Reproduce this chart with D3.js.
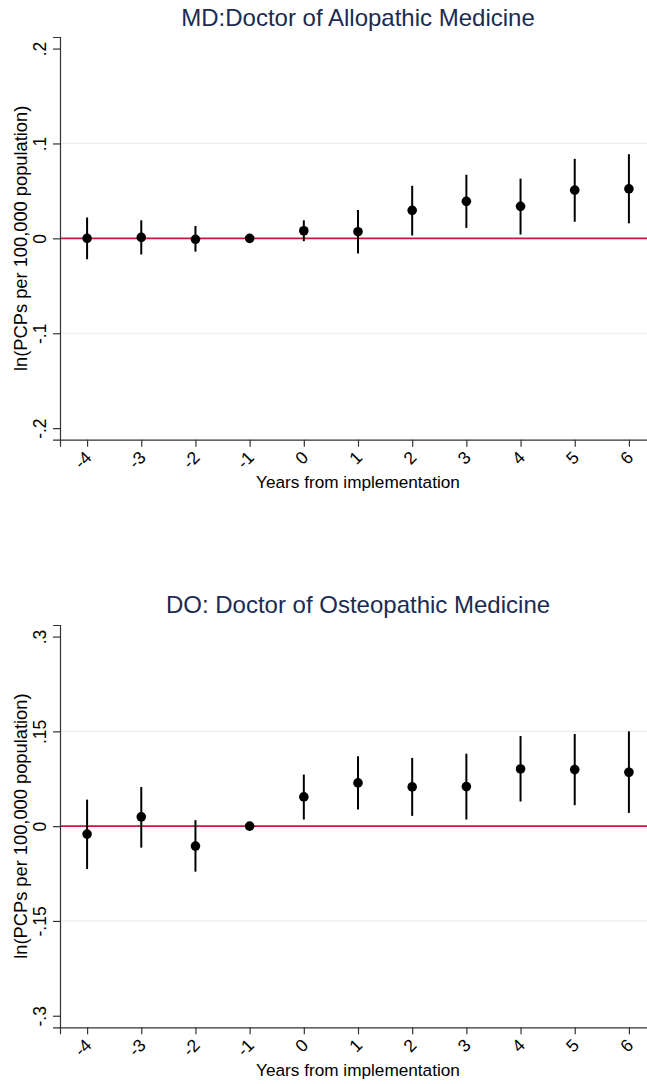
<!DOCTYPE html>
<html>
<head>
<meta charset="utf-8">
<script src="https://cdn.jsdelivr.net/npm/d3@7"></script>
<style>
  html, body { margin: 0; padding: 0; background: #fff; }
  svg { display: block; }
  text { font-family: "Liberation Sans", Arial, sans-serif; }
</style>
</head>
<body>
<script>
// ---- data ----
const years = [-4, -3, -2, -1, 0, 1, 2, 3, 4, 5, 6];
const xTickLabels = ["-4", "-3", "-2", "-1", "0", "1", "2", "3", "4", "5", "6"];

const mdTitle = "MD:Doctor of Allopathic Medicine";
const mdCoef = [0.000, 0.001, -0.001, 0, 0.008, 0.007, 0.0295, 0.039, 0.0337, 0.0508, 0.0522];
const mdLo   = [-0.022, -0.017, -0.014, 0, -0.003, -0.016, 0.003, 0.011, 0.004, 0.0175, 0.0158];
const mdHi   = [0.022, 0.019, 0.013, 0, 0.019, 0.030, 0.0554, 0.067, 0.063, 0.0838, 0.0887];
const mdYTicks = [-0.2, -0.1, 0, 0.1, 0.2];
const mdYTickLabels = ["-.2", "-.1", "0", ".1", ".2"];
const mdGrid = [-0.1, 0.1];

const doTitle = "DO: Doctor of Osteopathic Medicine";
const doCoef = [-0.0126, 0.0147, -0.0316, 0, 0.0463, 0.0684, 0.0621, 0.0626, 0.0905, 0.0895, 0.0853];
const doLo   = [-0.068, -0.034, -0.072, 0, 0.0105, 0.0263, 0.0163, 0.0105, 0.039, 0.0332, 0.021];
const doHi   = [0.042, 0.062, 0.0095, 0, 0.0816, 0.1105, 0.108, 0.1147, 0.1426, 0.1458, 0.150];
const doYTicks = [-0.3, -0.15, 0, 0.15, 0.3];
const doYTickLabels = ["-.3", "-.15", "0", ".15", ".3"];
const doGrid = [-0.15, 0.15];

const yTitle = "ln(PCPs per 100,000 population)";
const xTitle = "Years from implementation";

// ---- layout ----
const W = 647, H = 1084;
const svg = d3.select("body").append("svg").attr("width", W).attr("height", H);

function panel(cfg) {
  const g = svg.append("g");
  const x = d3.scaleLinear().domain([-4.5, 6.5]).range([60, 656]);
  const y = d3.scaleLinear().domain([-cfg.ymax, cfg.ymax]).range([cfg.bottom, cfg.top]);
  const data = years.map((yr, i) => ({ yr, b: cfg.coef[i], lo: cfg.lo[i], hi: cfg.hi[i] }));

  // title
  g.append("text").attr("x", 358).attr("y", cfg.titleY).attr("text-anchor", "middle")
    .attr("font-size", 24).attr("fill", "#1c2b52").text(cfg.title);

  // gridlines
  g.selectAll(".grid").data(cfg.grid).join("line")
    .attr("x1", 60).attr("x2", 656).attr("y1", d => y(d)).attr("y2", d => y(d))
    .attr("stroke", "#e7eeef").attr("stroke-width", 1.2);

  // zero line
  g.append("line").attr("x1", 60).attr("x2", 656).attr("y1", y(0)).attr("y2", y(0))
    .attr("stroke", "#c8163f").attr("stroke-width", 1.8);

  // y axis
  const yAxis = d3.axisLeft(y).tickValues(cfg.yTicks).tickSize(7)
    .tickFormat((d, i) => cfg.yTickLabels[i]);
  const ya = g.append("g").attr("transform", "translate(60,0)").call(yAxis);
  ya.select(".domain").attr("stroke", "#333").attr("stroke-width", 1.2);
  ya.selectAll(".tick line").attr("stroke", "#333").attr("stroke-width", 1.2);
  ya.selectAll(".tick text").attr("font-size", 17.5).attr("fill", "#000")
    .attr("font-family", "Liberation Sans, Arial, sans-serif")
    .attr("x", null).attr("dy", null).attr("text-anchor", "middle")
    .attr("transform", "translate(-14.5,0) rotate(-90)");

  // x axis
  const xAxis = d3.axisBottom(x).tickValues(years).tickSize(7)
    .tickFormat((d, i) => xTickLabels[i]);
  const xa = g.append("g").attr("transform", `translate(0,${cfg.bottom})`).call(xAxis);
  xa.select(".domain").attr("stroke", "#333").attr("stroke-width", 1.2);
  xa.selectAll(".tick line").attr("stroke", "#333").attr("stroke-width", 1.2);
  xa.selectAll(".tick text").attr("font-size", 17.5).attr("fill", "#000")
    .attr("font-family", "Liberation Sans, Arial, sans-serif")
    .attr("y", null).attr("dy", null).attr("text-anchor", "end")
    .attr("transform", "translate(5,19) rotate(-45)");

  // axis titles
  g.append("text").attr("transform", `translate(27,${y(0)}) rotate(-90)`)
    .attr("text-anchor", "middle").attr("font-size", 18.3).attr("fill", "#000").text(yTitle);
  g.append("text").attr("x", 358).attr("y", cfg.xTitleY).attr("text-anchor", "middle")
    .attr("font-size", 17.2).attr("fill", "#000").text(xTitle);

  // CIs
  g.selectAll(".ci").data(data.filter(d => d.hi !== d.lo)).join("line")
    .attr("x1", d => x(d.yr)).attr("x2", d => x(d.yr))
    .attr("y1", d => y(d.lo)).attr("y2", d => y(d.hi))
    .attr("stroke", "#000").attr("stroke-width", 2);

  // points
  g.selectAll(".pt").data(data).join("circle")
    .attr("cx", d => x(d.yr)).attr("cy", d => y(d.b)).attr("r", 4.8).attr("fill", "#000");
}

panel({ title: mdTitle, coef: mdCoef, lo: mdLo, hi: mdHi, yTicks: mdYTicks, yTickLabels: mdYTickLabels,
        grid: mdGrid, ymax: 0.2122, top: 37, bottom: 439.7, titleY: 25.6, xTitleY: 488 });
panel({ title: doTitle, coef: doCoef, lo: doLo, hi: doHi, yTicks: doYTicks, yTickLabels: doYTickLabels,
        grid: doGrid, ymax: 0.3183, top: 625, bottom: 1027.3, titleY: 613.3, xTitleY: 1075.7 });
</script>
</body>
</html>
